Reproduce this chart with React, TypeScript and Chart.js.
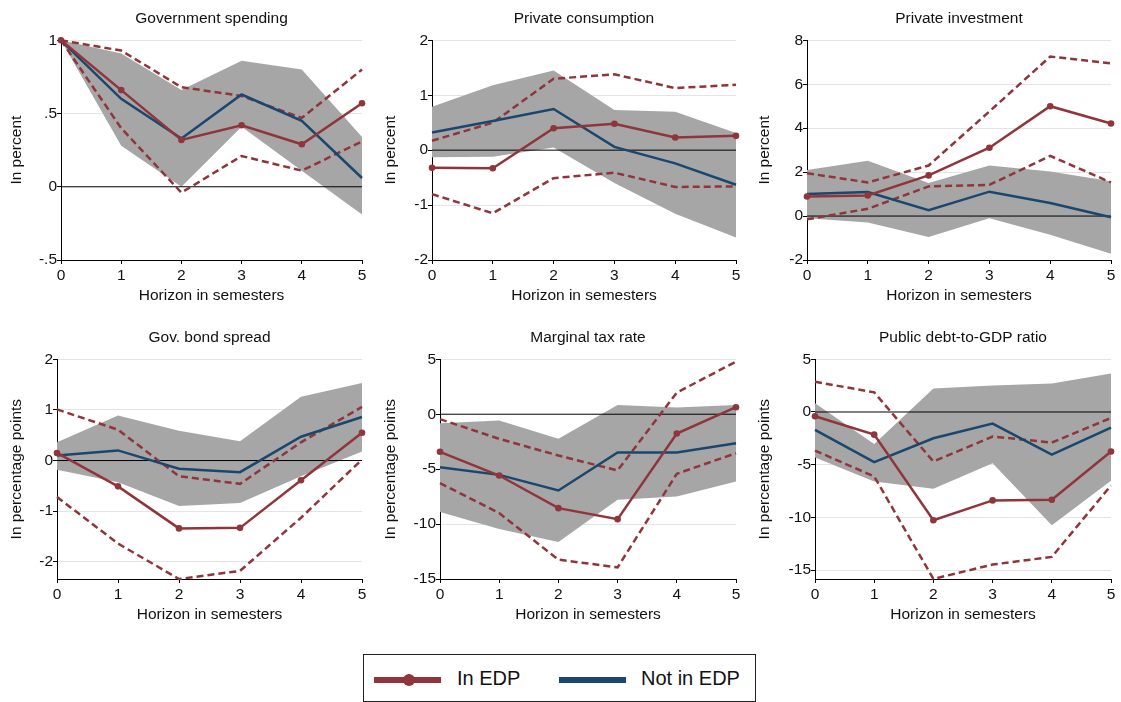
import { useEffect, useRef } from "react"
import { Chart, registerables } from "chart.js"

Chart.register(...registerables)

const horizons = ["0", "1", "2", "3", "4", "5"]

// Government spending
const govInEdp = [1.0, 0.66, 0.32, 0.42, 0.29, 0.57]
const govInEdpHi = [1.0, 0.93, 0.68, 0.62, 0.47, 0.8]
const govInEdpLo = [1.0, 0.4, -0.04, 0.21, 0.11, 0.31]
const govNotEdp = [1.0, 0.6, 0.33, 0.63, 0.45, 0.06]
const govNotEdpHi = [1.0, 0.91, 0.66, 0.86, 0.8, 0.34]
const govNotEdpLo = [1.0, 0.28, 0.0, 0.41, 0.11, -0.19]
const govTicks = [-0.5, 0, 0.5, 1]

// Private consumption
const consInEdp = [-0.32, -0.33, 0.4, 0.48, 0.23, 0.26]
const consInEdpHi = [0.17, 0.5, 1.3, 1.38, 1.13, 1.19]
const consInEdpLo = [-0.8, -1.15, -0.51, -0.41, -0.67, -0.66]
const consNotEdp = [0.32, 0.53, 0.75, 0.06, -0.24, -0.63]
const consNotEdpHi = [0.79, 1.18, 1.45, 0.73, 0.7, 0.31]
const consNotEdpLo = [-0.13, -0.12, 0.05, -0.6, -1.16, -1.59]
const consTicks = [-2, -1, 0, 1, 2]

// Private investment
const invInEdp = [0.89, 0.94, 1.85, 3.11, 5.0, 4.21]
const invInEdpHi = [1.95, 1.53, 2.3, 4.76, 7.26, 6.95]
const invInEdpLo = [-0.15, 0.33, 1.35, 1.42, 2.74, 1.53]
const invNotEdp = [1.0, 1.09, 0.27, 1.11, 0.59, -0.05]
const invNotEdpHi = [2.1, 2.52, 1.5, 2.3, 2.03, 1.58]
const invNotEdpLo = [-0.1, -0.29, -0.95, -0.1, -0.85, -1.71]
const invTicks = [-2, 0, 2, 4, 6, 8]

// Gov. bond spread
const spreadInEdp = [0.15, -0.51, -1.34, -1.33, -0.39, 0.55]
const spreadInEdpHi = [1.01, 0.61, -0.31, -0.46, 0.36, 1.06]
const spreadInEdpLo = [-0.72, -1.64, -2.34, -2.18, -1.13, 0.02]
const spreadNotEdp = [0.1, 0.2, -0.16, -0.23, 0.47, 0.86]
const spreadNotEdpHi = [0.36, 0.89, 0.59, 0.38, 1.26, 1.53]
const spreadNotEdpLo = [-0.18, -0.43, -0.9, -0.84, -0.31, 0.18]
const spreadTicks = [-2, -1, 0, 1, 2]

// Marginal tax rate
const taxInEdp = [-3.42, -5.58, -8.55, -9.55, -1.76, 0.64]
const taxInEdpHi = [-0.45, -2.24, -3.76, -5.12, 1.97, 4.79]
const taxInEdpLo = [-6.27, -9.0, -13.24, -13.94, -5.42, -3.55]
const taxNotEdp = [-4.82, -5.52, -6.94, -3.48, -3.48, -2.64]
const taxNotEdpHi = [-0.82, -0.58, -2.24, 0.85, 0.61, 0.85]
const taxNotEdpLo = [-8.9, -10.45, -11.64, -7.79, -7.48, -6.12]
const taxTicks = [-15, -10, -5, 0, 5]

// Public debt-to-GDP ratio
const debtInEdp = [-0.41, -2.15, -10.28, -8.39, -8.33, -3.75]
const debtInEdpHi = [2.87, 1.86, -4.7, -2.33, -2.9, -0.57]
const debtInEdpLo = [-3.66, -6.12, -15.84, -14.48, -13.75, -6.97]
const debtNotEdp = [-1.7, -4.76, -2.49, -1.1, -4.04, -1.48]
const debtNotEdpHi = [0.82, -3.03, 2.24, 2.52, 2.71, 3.66]
const debtNotEdpLo = [-4.32, -6.59, -7.29, -4.86, -10.76, -6.53]
const debtTicks = [-15, -10, -5, 0, 5]

const RED = "rgb(144,53,59)"
const BLUE = "rgb(26,71,111)"
const BAND = "rgb(166,166,166)"
const TEXT = "#111"
const FONT = "'Liberation Sans', Arial, sans-serif"

Chart.defaults.font.family = FONT
Chart.defaults.font.size = 15.5
Chart.defaults.color = TEXT

const panels = [
  { title: "Government spending", yTitle: "In percent", ticks: govTicks, min: -0.5, max: 1,
    inEdp: govInEdp, hi: govInEdpHi, lo: govInEdpLo, notEdp: govNotEdp, nhi: govNotEdpHi, nlo: govNotEdpLo,
    left: 0, top: 0, width: 374, padRight: 12, yWidth: 61 },
  { title: "Private consumption", yTitle: "In percent", ticks: consTicks, min: -2, max: 2,
    inEdp: consInEdp, hi: consInEdpHi, lo: consInEdpLo, notEdp: consNotEdp, nhi: consNotEdpHi, nlo: consNotEdpLo,
    left: 374, top: 0, width: 374, padRight: 12, yWidth: 58 },
  { title: "Private investment", yTitle: "In percent", ticks: invTicks, min: -2, max: 8,
    inEdp: invInEdp, hi: invInEdpHi, lo: invInEdpLo, notEdp: invNotEdp, nhi: invNotEdpHi, nlo: invNotEdpLo,
    left: 748, top: 0, width: 373, padRight: 10, yWidth: 59 },
  { title: "Gov. bond spread", yTitle: "In percentage points", ticks: spreadTicks, min: -2.34, max: 2,
    inEdp: spreadInEdp, hi: spreadInEdpHi, lo: spreadInEdpLo, notEdp: spreadNotEdp, nhi: spreadNotEdpHi, nlo: spreadNotEdpLo,
    left: 0, top: 319, width: 374, padRight: 12, yWidth: 57 },
  { title: "Marginal tax rate", yTitle: "In percentage points", ticks: taxTicks, min: -15, max: 5,
    inEdp: taxInEdp, hi: taxInEdpHi, lo: taxInEdpLo, notEdp: taxNotEdp, nhi: taxNotEdpHi, nlo: taxNotEdpLo,
    left: 374, top: 319, width: 374, padRight: 12, yWidth: 66 },
  { title: "Public debt-to-GDP ratio", yTitle: "In percentage points", ticks: debtTicks, min: -15.85, max: 5,
    inEdp: debtInEdp, hi: debtInEdpHi, lo: debtInEdpLo, notEdp: debtNotEdp, nhi: debtNotEdpHi, nlo: debtNotEdpLo,
    left: 748, top: 319, width: 373, padRight: 10, yWidth: 67 },
]

// Stata-style labels: ".5" instead of "0.5"
function fmt(v: number) {
  return String(v).replace(/^(-?)0\./, "$1.")
}

// zero reference line, drawn right after the confidence band
const zeroLine = {
  id: "zeroLine",
  afterDatasetDraw(chart: any, args: any) {
    if (args.index !== 4) return
    const { ctx, chartArea } = chart
    const y = chart.scales.y.getPixelForValue(0)
    ctx.save()
    ctx.strokeStyle = "#000"
    ctx.lineWidth = 1
    ctx.beginPath()
    ctx.moveTo(chartArea.left, y)
    ctx.lineTo(chartArea.right, y)
    ctx.stroke()
    ctx.restore()
  },
}

function Panel({ p }: { p: any }) {
  const chartRef = useRef<HTMLCanvasElement>(null)

  useEffect(() => {
    if (!chartRef.current) return
    const line = { pointRadius: 0, borderWidth: 2.5, tension: 0, fill: false, clip: 6 }
    const chart = new Chart(chartRef.current, {
      type: "line",
      data: {
        labels: horizons,
        datasets: [
          { ...line, label: "In EDP", data: p.inEdp, borderColor: RED, backgroundColor: RED,
            pointRadius: 3.3, pointBorderWidth: 0, pointBackgroundColor: RED, order: 0 },
          { ...line, label: "Not in EDP", data: p.notEdp, borderColor: BLUE, order: 1 },
          { ...line, label: "In EDP upper", data: p.hi, borderColor: RED, borderDash: [7, 4], order: 2 },
          { ...line, label: "In EDP lower", data: p.lo, borderColor: RED, borderDash: [7, 4], order: 3 },
          { ...line, label: "Not in EDP upper", data: p.nhi, borderWidth: 0, borderColor: BAND,
            backgroundColor: BAND, fill: "+1", order: 5 },
          { ...line, label: "Not in EDP lower", data: p.nlo, borderWidth: 0, borderColor: BAND, order: 6 },
        ],
      },
      options: {
        animation: false,
        responsive: true,
        maintainAspectRatio: false,
        layout: { padding: { top: 0, right: p.padRight, bottom: 0, left: 0 } },
        plugins: {
          legend: { display: false },
          tooltip: { enabled: false },
          title: {
            display: true,
            text: p.title,
            fullSize: false,
            color: TEXT,
            font: { size: 15.5, weight: "normal" },
            padding: { top: 9, bottom: 12.7 },
          },
        },
        scales: {
          x: {
            type: "category",
            offset: false,
            grid: { drawOnChartArea: false, drawTicks: true, tickLength: 4, tickColor: "#000" },
            border: { display: true, color: "#000", width: 1 },
            ticks: { padding: 2, maxRotation: 0, autoSkip: false, color: TEXT },
            title: { display: true, text: "Horizon in semesters", color: TEXT, padding: { top: 0, bottom: 4.7 } },
            afterFit: (s: any) => {
              s.height = 50
              s.paddingLeft = 0
              s.paddingRight = 0
            },
          },
          y: {
            type: "linear",
            min: p.min,
            max: p.max,
            afterBuildTicks: (s: any) => {
              s.ticks = p.ticks.map((v: number) => ({ value: v }))
            },
            ticks: { padding: 0, autoSkip: false, color: TEXT, callback: (v: any) => fmt(Number(v)) },
            grid: {
              color: (c: any) => (c.tick && c.tick.value === 0 ? "rgba(0,0,0,0)" : "#e4e4e4"),
              tickColor: "#000",
              tickLength: 4,
              lineWidth: 1,
            },
            border: { display: true, color: "#000", width: 1 },
            title: { display: true, text: p.yTitle, color: TEXT, padding: 7.7 },
            afterFit: (s: any) => {
              s.width = p.yWidth
            },
          },
        },
      },
      plugins: [zeroLine],
    } as any)

    return () => chart.destroy()
  }, [p])

  return (
    <div style={{ position: "absolute", left: p.left, top: p.top, width: p.width, height: 310 }}>
      <canvas ref={chartRef} />
    </div>
  )
}

function Legend() {
  const text = { position: "absolute" as const, top: 11, fontSize: 20, fontFamily: FONT, color: TEXT, lineHeight: "24px" }
  return (
    <div
      style={{
        position: "absolute",
        left: 363,
        top: 654,
        width: 391,
        height: 46,
        border: "1px solid #222",
        background: "#fff",
      }}
    >
      <div style={{ position: "absolute", left: 10, top: 22, width: 67, height: 6, background: RED }} />
      <div style={{ position: "absolute", left: 39, top: 19, width: 12, height: 12, borderRadius: 6, background: RED }} />
      <div style={{ ...text, left: 93 }}>In EDP</div>
      <div style={{ position: "absolute", left: 195, top: 22, width: 67, height: 6, background: BLUE }} />
      <div style={{ ...text, left: 277 }}>Not in EDP</div>
    </div>
  )
}

export default function App() {
  return (
    <div
      style={{
        position: "absolute",
        left: 0,
        top: 0,
        width: 1121,
        height: 702,
        overflow: "hidden",
        background: "#fff",
      }}
    >
      {panels.map((p) => (
        <Panel key={p.title} p={p} />
      ))}
      <Legend />
    </div>
  )
}
